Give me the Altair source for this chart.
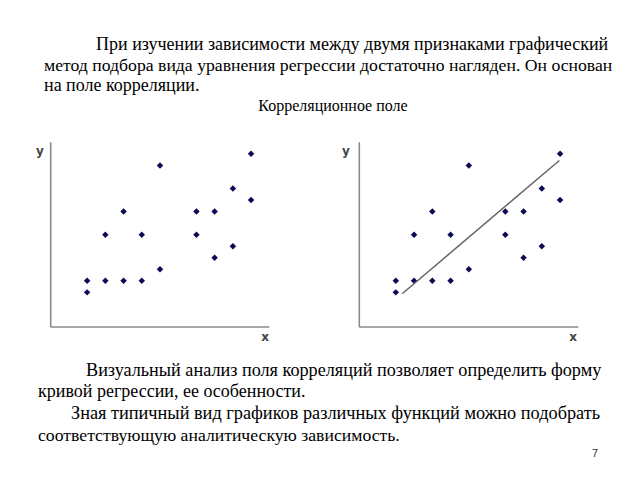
import altair as alt
import pandas as pd

# Scatter data (same correlation field in both panels)
x_vals = [1, 1, 2, 2, 3, 3, 4, 4, 5, 5, 7, 7, 8, 8, 9, 9, 10, 10]
y_vals = [2, 1, 2, 6, 2, 8, 2, 6, 3, 12, 8, 6, 8, 4, 10, 5, 13, 9]
# Regression line endpoints (right panel)
line_x = [1.35, 9.96]
line_y = [0.88, 12.42]
# Axis extents
x_domain = [-1, 11]
y_domain = [-2, 14]

title_lines = [
    "При изучении зависимости между двумя признаками графический",
    "метод подбора вида уравнения регрессии достаточно нагляден. Он основан",
    "на поле корреляции.",
]
subtitle = "Корреляционное поле"
bottom_lines = [
    "Визуальный анализ поля корреляций  позволяет определить форму",
    "кривой регрессии, ее особенности.",
    "Зная типичный вид графиков различных функций можно подобрать",
    "соответствующую аналитическую зависимость.",
]
page_no = "7"

pts = pd.DataFrame({"x": x_vals, "y": y_vals})
reg = pd.DataFrame({"x": line_x, "y": line_y})
ax_v = pd.DataFrame({"x": [x_domain[0]], "y": [y_domain[0]], "y2": [y_domain[1]]})
ax_h = pd.DataFrame({"x": [x_domain[0]], "x2": [x_domain[1]], "y": [y_domain[0]]})

SERIF = "Liberation Serif"
POINT_COL = "#0b0b55"
AXIS_COL = "#8a8a8a"


def panel(xrange, yrange, with_line):
    xs = alt.Scale(domain=x_domain, range=xrange, nice=False, zero=False)
    ys = alt.Scale(domain=y_domain, range=yrange, nice=False, zero=False)
    noax = None
    vline = alt.Chart(ax_v).mark_rule(color=AXIS_COL, strokeWidth=1.6).encode(
        x=alt.X("x:Q", scale=xs, axis=noax),
        y=alt.Y("y:Q", scale=ys, axis=noax),
        y2="y2:Q",
    )
    hline = alt.Chart(ax_h).mark_rule(color=AXIS_COL, strokeWidth=1.6).encode(
        x=alt.X("x:Q", scale=xs, axis=noax),
        x2="x2:Q",
        y=alt.Y("y:Q", scale=ys, axis=noax),
    )
    dots = alt.Chart(pts).mark_point(
        shape="diamond", filled=True, size=42, color=POINT_COL, opacity=1
    ).encode(
        x=alt.X("x:Q", scale=xs, axis=noax),
        y=alt.Y("y:Q", scale=ys, axis=noax),
    )
    layers = [vline, hline, dots]
    if with_line:
        layers.append(
            alt.Chart(reg).mark_line(color="#666666", strokeWidth=1.5).encode(
                x=alt.X("x:Q", scale=xs, axis=noax),
                y=alt.Y("y:Q", scale=ys, axis=noax),
            )
        )
    return alt.layer(*layers)


left = panel([50.7, 269.3], [327, 142.3], False)
right = panel([359.3, 578.3], [327, 142.3], True)


def body(txt, x, y, size=18, align="left"):
    return alt.Chart(pd.DataFrame({"t": [txt]})).mark_text(
        font=SERIF, fontSize=size, align=align, baseline="middle"
    ).encode(text="t:N", x=alt.value(x), y=alt.value(y))


def small(txt, x, y, size, font, bold, color):
    kw = dict(font=font, fontSize=size, align="center", baseline="middle", color=color)
    if bold:
        kw["fontWeight"] = "bold"
    return alt.Chart(pd.DataFrame({"t": [txt]})).mark_text(**kw).encode(
        text="t:N", x=alt.value(x), y=alt.value(y))


texts = [
    body(title_lines[0], 96, 45),
    body(title_lines[1], 44, 66, size=17.7),
    body(title_lines[2], 44, 86),
    body(subtitle, 333, 106, size=16, align="center"),
    body(bottom_lines[0], 86, 371, size=18.2),
    body(bottom_lines[1], 38, 392),
    body(bottom_lines[2], 71, 414, size=18.3),
    body(bottom_lines[3], 38, 436, size=17.7),
    small(page_no, 595, 454, 11, "Liberation Sans", False, "#333333"),
    small("y", 40, 151, 12, "DejaVu Sans", True, "#444444"),
    small("x", 265, 337, 12, "DejaVu Sans", True, "#444444"),
    small("y", 346, 151, 12, "DejaVu Sans", True, "#444444"),
    small("x", 573, 337, 12, "DejaVu Sans", True, "#444444"),
]

chart = alt.layer(*texts, left, right).resolve_scale(
    x="independent", y="independent"
).properties(
    width=640, height=480, padding=0,
    autosize=alt.AutoSizeParams(type="none"),
    view=alt.ViewBackground(strokeWidth=0),
)

chart.save("out.html", embed_options={"renderer": "svg", "actions": False})
